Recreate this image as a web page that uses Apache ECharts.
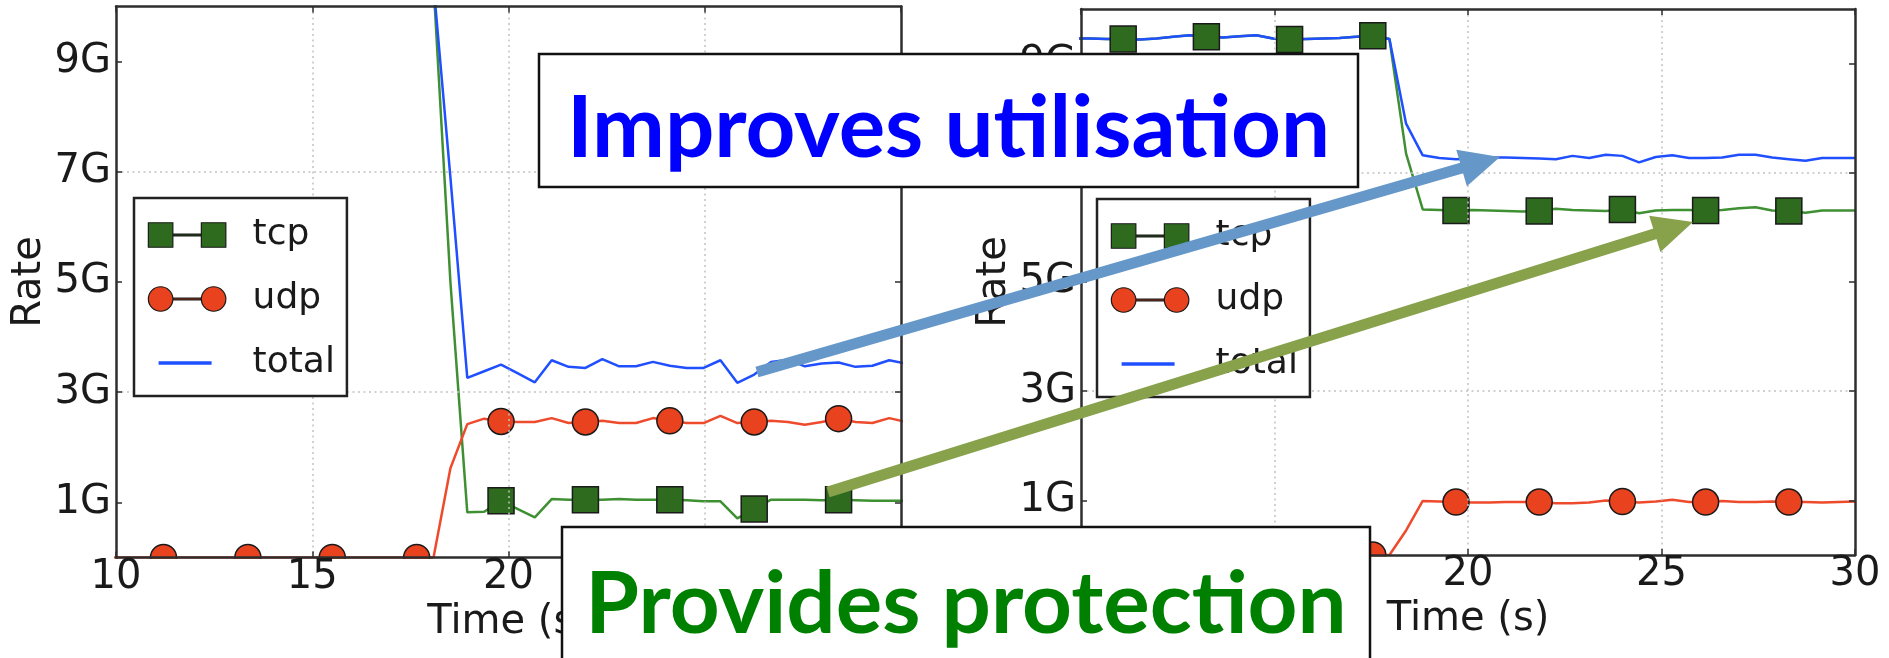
<!DOCTYPE html>
<html>
<head>
<meta charset="utf-8">
<script src="https://cdn.jsdelivr.net/npm/echarts@6/dist/echarts.min.js"></script>
<style>
  html, body { margin: 0; padding: 0; background: #ffffff; }
  #chart { width: 1889px; height: 658px; }
</style>
</head>
<body>
<div id="chart"></div>
<script>
// Sample times (s) for the two runs
const leftTime = [9.92, 10.35, 10.78, 11.21, 11.64, 12.07, 12.50, 12.93, 13.36, 13.79, 14.22, 14.65, 15.08, 15.51, 15.94, 16.37,
  16.80, 17.23, 17.66, 18.09, 18.52, 18.95, 19.38, 19.81, 20.24, 20.67, 21.10, 21.53, 21.96, 22.39, 22.82, 23.25,
  23.68, 24.11, 24.54, 24.97, 25.40, 25.83, 26.26, 26.69, 27.12, 27.55, 27.98, 28.41, 28.84, 29.27, 29.70, 30.13];
const rightTime = [9.80, 10.23, 10.66, 11.09, 11.52, 11.95, 12.38, 12.81, 13.24, 13.67, 14.10, 14.53, 14.96, 15.39, 15.82, 16.25,
  16.68, 17.11, 17.54, 17.97, 18.40, 18.83, 19.26, 19.69, 20.12, 20.55, 20.98, 21.41, 21.84, 22.27, 22.70, 23.13,
  23.56, 23.99, 24.42, 24.85, 25.28, 25.71, 26.14, 26.57, 27.00, 27.43, 27.86, 28.29, 28.72, 29.15, 29.58, 30.01];

// Rates in Gbit/s, without protection (left)
const leftTcp = [10.4, 10.4, 10.4, 10.4, 10.4, 10.4, 10.4, 10.4, 10.4, 10.4, 10.4, 10.4, 10.4, 10.4, 10.4, 10.4,
  10.4, 10.4, 10.4, 10.4, 5.0, 0.82, 0.83, 1.03, 0.88, 0.73, 1.06, 1.05, 1.05, 1.05, 1.06, 1.05,
  1.05, 1.05, 1.04, 1.02, 1.02, 0.71, 0.88, 1.05, 1.05, 1.05, 1.04, 1.05, 1.04, 1.03, 1.03, 1.03];
const leftUdp = [0, 0, 0, 0, 0, 0, 0, 0, 0, 0, 0, 0, 0, 0, 0, 0,
  0, 0, 0, 0, 1.62, 2.42, 2.52, 2.47, 2.46, 2.46, 2.53, 2.44, 2.46, 2.48, 2.44, 2.44,
  2.53, 2.48, 2.44, 2.44, 2.57, 2.44, 2.46, 2.48, 2.46, 2.41, 2.46, 2.52, 2.46, 2.44, 2.53, 2.46];
const leftTotal = [10.4, 10.4, 10.4, 10.4, 10.4, 10.4, 10.4, 10.4, 10.4, 10.4, 10.4, 10.4, 10.4, 10.4, 10.4, 10.4,
  10.4, 10.4, 10.4, 10.4, 6.9, 3.26, 3.38, 3.50, 3.34, 3.18, 3.58, 3.46, 3.44, 3.60, 3.47, 3.47,
  3.55, 3.48, 3.44, 3.44, 3.58, 3.17, 3.32, 3.55, 3.59, 3.47, 3.52, 3.54, 3.46, 3.48, 3.58, 3.52];

// Rates in Gbit/s, with protection (right)
const rightTcp = [9.46, 9.46, 9.45, 9.45, 9.44, 9.46, 9.49, 9.52, 9.49, 9.48, 9.50, 9.52, 9.46, 9.44, 9.45, 9.46,
  9.47, 9.49, 9.51, 9.45, 7.35, 6.33, 6.32, 6.31, 6.32, 6.31, 6.30, 6.29, 6.30, 6.34, 6.32, 6.31,
  6.30, 6.33, 6.26, 6.31, 6.32, 6.32, 6.31, 6.32, 6.35, 6.37, 6.31, 6.30, 6.27, 6.31, 6.31, 6.31];
const rightUdp = [0, 0, 0, 0, 0, 0, 0, 0, 0, 0, 0, 0, 0, 0, 0, 0,
  0, 0, 0, 0, 0.45, 0.99, 0.98, 0.97, 0.96, 0.96, 0.97, 0.97, 0.97, 0.95, 0.95, 0.96,
  1.00, 0.98, 0.96, 0.98, 1.01, 0.97, 0.97, 0.99, 0.97, 0.97, 0.98, 0.97, 0.97, 0.96, 0.97, 0.98];
const rightTotal = [9.46, 9.46, 9.45, 9.45, 9.44, 9.46, 9.49, 9.52, 9.49, 9.48, 9.50, 9.52, 9.46, 9.44, 9.45, 9.46,
  9.47, 9.49, 9.51, 9.45, 7.90, 7.32, 7.27, 7.25, 7.26, 7.28, 7.28, 7.27, 7.26, 7.25, 7.31, 7.27,
  7.33, 7.31, 7.19, 7.29, 7.32, 7.27, 7.27, 7.28, 7.33, 7.33, 7.28, 7.25, 7.22, 7.27, 7.27, 7.27];

// Axis ticks and labels
const rateTicks = [1, 3, 5, 7, 9];
const rateUnit = 'G';
const timeRange = [10, 30];
const timeStep = 5;
const rateRange = [0, 10];
const seriesNames = ['tcp', 'udp', 'total'];
const rateTitle = 'Rate';
const timeTitle = 'Time (s)';
const utilisationNote = 'Improves utilisation';
const protectionNote = 'Provides protection';

// Styling
const FONT = 'DejaVu Sans';
const INK = '#1a1a1a';
const FRAME = '#2e2e2e';
const GRID = '#c2c2c2';
const GRID_DASH = [2, 3.5];
const TCP_LINE = '#3f8f33';
const TCP_FILL = '#2e6b1f';
const UDP_LINE = '#ee4a2c';
const UDP_FILL = '#e8421e';
const TOTAL_LINE = '#1f4fff';
const EDGE = '#1a1a1a';
const MARK_EVERY = 5;
const MARK_PHASE = 3;

function series(name, times, values, axisIndex, lineColor, mark) {
  return {
    type: 'line',
    name: name,
    xAxisIndex: axisIndex,
    yAxisIndex: axisIndex,
    data: values.map(function (v, i) {
      const item = { value: [times[i], v] };
      if (!mark || i % MARK_EVERY !== MARK_PHASE) item.symbol = 'none';
      return item;
    }),
    symbol: mark ? mark.shape : 'none',
    symbolSize: 26,
    showAllSymbol: true,
    clip: true,
    lineStyle: { color: lineColor, width: 2.5 },
    itemStyle: mark ? { color: mark.fill, borderColor: EDGE, borderWidth: 1.5 } : { color: lineColor },
    emphasis: { disabled: true },
    silent: true,
    z: 2
  };
}

function frameLine() { return { show: true, onZero: false, lineStyle: { color: FRAME, width: 2.5 } }; }
function innerTick(values) {
  const t = { show: true, inside: true, length: 6, lineStyle: { color: FRAME, width: 1.5 } };
  if (values) t.customValues = values;
  return t;
}
const textStyle = { fontFamily: FONT, fontSize: 40, color: INK };

function xAxesFor(gridIndex) {
  return [{
    type: 'value', gridIndex: gridIndex, position: 'bottom', z: 10,
    min: timeRange[0], max: timeRange[1], interval: timeStep,
    axisLine: frameLine(), axisTick: innerTick(),
    axisLabel: Object.assign({ margin: 0 }, textStyle),
    splitLine: { show: true, showMinLine: false, showMaxLine: false,
      lineStyle: { color: GRID, width: 1.5, type: GRID_DASH } },
    name: timeTitle, nameLocation: 'middle', nameGap: 41, nameTextStyle: textStyle
  }, {
    type: 'value', gridIndex: gridIndex, position: 'top', z: 10,
    min: timeRange[0], max: timeRange[1], interval: timeStep,
    axisLine: frameLine(), axisTick: innerTick(),
    axisLabel: { show: false }, splitLine: { show: false }
  }];
}

function yAxesFor(gridIndex) {
  return [{
    type: 'value', gridIndex: gridIndex, position: 'left', z: 10,
    min: rateRange[0], max: rateRange[1], interval: 1,
    axisLine: frameLine(), axisTick: innerTick(rateTicks),
    axisLabel: Object.assign({ margin: 5, customValues: rateTicks,
      formatter: function (v) { return v + rateUnit; } }, textStyle),
    splitLine: { show: true, lineStyle: { color: ['rgba(0,0,0,0)', GRID], width: 1.5, type: GRID_DASH } },
    name: rateTitle, nameLocation: 'middle', nameGap: 66, nameTextStyle: textStyle
  }, {
    type: 'value', gridIndex: gridIndex, position: 'right', z: 10,
    min: rateRange[0], max: rateRange[1], interval: 1,
    axisLine: frameLine(), axisTick: innerTick(rateTicks),
    axisLabel: { show: false }, splitLine: { show: false }
  }];
}

// Legend icons: two markers joined by a short line, in a 100 x 26 box
const TCP_ICON = 'path://M0,0L0,0M100,26L100,26M0.75,0.75h24.5v24.5h-24.5zM25.5,12.1h28v1.8h-28zM53.75,0.75h24.5v24.5h-24.5z';
const UDP_ICON = 'path://M0,0L0,0M100,26L100,26M0.75,13a12.25,12.25 0 1,0 24.5,0a12.25,12.25 0 1,0 -24.5,0zM25.5,12.1h28v1.8h-28zM53.75,13a12.25,12.25 0 1,0 24.5,0a12.25,12.25 0 1,0 -24.5,0z';
const TOTAL_ICON = 'path://M0,0L0,0M100,26L100,26M11,11.3h53v3.4h-53z';

function legendAt(left, top) {
  return {
    left: left, top: top, orient: 'vertical', selectedMode: false,
    padding: [19, 12, 15, 13], itemWidth: 100, itemHeight: 26, itemGap: 28,
    borderColor: '#222222', borderWidth: 2.5, borderRadius: 0, backgroundColor: '#ffffff', z: 12,
    textStyle: { fontFamily: FONT, fontSize: 36, color: INK, lineHeight: 26 },
    data: [
      { name: seriesNames[0], icon: TCP_ICON, itemStyle: { color: TCP_FILL, borderColor: EDGE, borderWidth: 1.2 } },
      { name: seriesNames[1], icon: UDP_ICON, itemStyle: { color: UDP_FILL, borderColor: EDGE, borderWidth: 1.2 } },
      { name: seriesNames[2], icon: TOTAL_ICON, itemStyle: { color: TOTAL_LINE, borderWidth: 0 } }
    ]
  };
}

// Arrow: shaft plus triangular head
function arrow(x1, y1, x2, y2, color, width, headLen, headHalf) {
  const dx = x2 - x1, dy = y2 - y1, len = Math.sqrt(dx * dx + dy * dy);
  const ux = dx / len, uy = dy / len, nx = -uy, ny = ux;
  const bx = x2 - ux * headLen, by = y2 - uy * headLen;
  return [{
    type: 'line', z: 30, silent: true,
    shape: { x1: x1, y1: y1, x2: bx + ux * 2, y2: by + uy * 2 },
    style: { stroke: color, lineWidth: width, lineCap: 'butt' }
  }, {
    type: 'polygon', z: 30, silent: true,
    shape: { points: [[x2, y2], [bx + nx * headHalf, by + ny * headHalf], [bx - nx * headHalf, by - ny * headHalf]] },
    style: { fill: color }
  }];
}

function noteBox(x, y, w, h, text, color, textY) {
  return [{
    type: 'rect', z: 31, silent: true,
    shape: { x: x, y: y, width: w, height: h },
    style: { fill: '#ffffff', stroke: '#111111', lineWidth: 2.5 }
  }, {
    type: 'text', z: 32, silent: true, x: x + w / 2, y: textY,
    style: { text: text, fill: color, fontFamily: 'Lato', fontWeight: 'bold', fontSize: 87,
      align: 'center', verticalAlign: 'middle', textAlign: 'center', textVerticalAlign: 'middle' }
  }];
}

const chart = echarts.init(document.getElementById('chart'), null, { renderer: 'canvas', width: 1889, height: 658 });

const option = {
  animation: false,
  backgroundColor: '#ffffff',
  grid: [
    { left: 116, top: 6.5, width: 785, height: 551, outerBoundsMode: 'none', containLabel: false },
    { left: 1081, top: 9, width: 774, height: 546, outerBoundsMode: 'none', containLabel: false }
  ],
  xAxis: xAxesFor(0).concat(xAxesFor(1)),
  yAxis: yAxesFor(0).concat(yAxesFor(1)),
  legend: [legendAt(134, 198), legendAt(1097, 199)],
  series: [
    series(seriesNames[0], leftTime, leftTcp, 0, TCP_LINE, { shape: 'rect', fill: TCP_FILL }),
    series(seriesNames[1], leftTime, leftUdp, 0, UDP_LINE, { shape: 'circle', fill: UDP_FILL }),
    series(seriesNames[2], leftTime, leftTotal, 0, TOTAL_LINE, null),
    series(seriesNames[0], rightTime, rightTcp, 2, TCP_LINE, { shape: 'rect', fill: TCP_FILL }),
    series(seriesNames[1], rightTime, rightUdp, 2, UDP_LINE, { shape: 'circle', fill: UDP_FILL }),
    series(seriesNames[2], rightTime, rightTotal, 2, TOTAL_LINE, null)
  ],
  graphic: {
    elements: [].concat(
      // markers sitting on the time axis are cut at the plot edge
      [{ type: 'rect', z: 5, silent: true, shape: { x: 90, y: 559, width: 830, height: 99 }, style: { fill: '#ffffff' } },
       { type: 'rect', z: 5, silent: true, shape: { x: 1060, y: 556.5, width: 829, height: 102 }, style: { fill: '#ffffff' } }],
      arrow(757, 372, 1500, 157, '#6597c9', 11, 40, 19),
      arrow(828, 492, 1693, 222, '#88a14b', 11, 40, 19),
      noteBox(539, 54, 819, 133, utilisationNote, '#0000ff', 128.5),
      noteBox(562, 527, 808, 150, protectionNote, '#008000', 605)
    )
  }
};

chart.setOption(option);
</script>
</body>
</html>
